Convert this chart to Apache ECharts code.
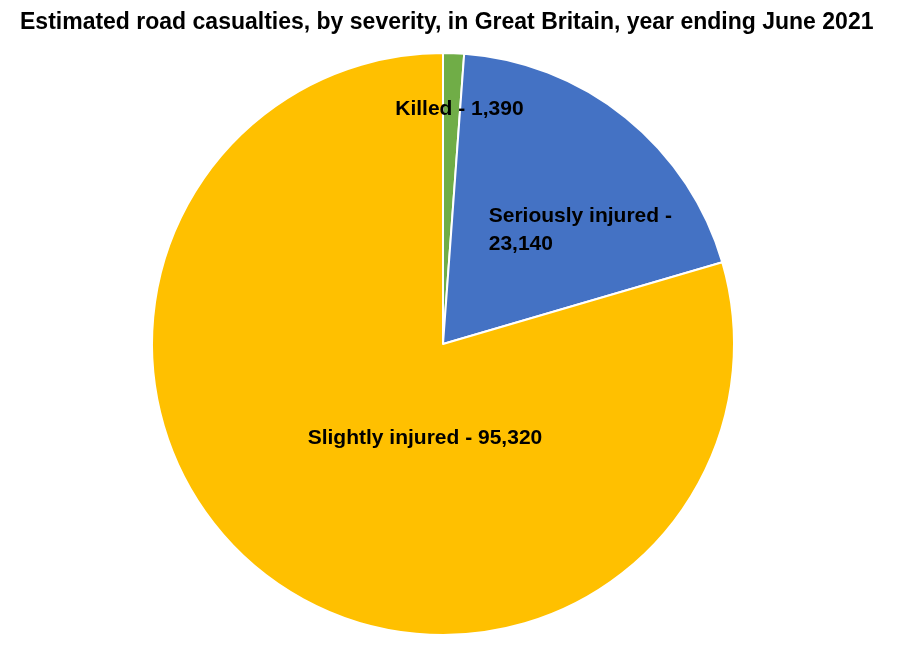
<!DOCTYPE html>
<html>
<head>
<meta charset="utf-8">
<script src="https://cdn.jsdelivr.net/npm/echarts@6/dist/echarts.min.js"></script>
<style>
  html, body { margin: 0; padding: 0; background: #fff; }
  #chart { width: 908px; height: 646px; }
</style>
</head>
<body>
<div id="chart"></div>
<script>
// casualty categories and estimated counts
const categories = ['Killed', 'Seriously injured', 'Slightly injured'];
const values = [1390, 23140, 95320];
const colors = ['#70AD47', '#4472C4', '#FFC000'];

// label placement tweaks per slice (offset from default inside position)
const labelTweaks = [
    { offset: [11, -86], fmt: (n, v) => n + ' - ' + v },
    { offset: [44, 2], fmt: (n, v) => '{l|' + n + ' -}\n{l|' + v + '}' },
    { offset: [71, -25], fmt: (n, v) => n + ' - ' + v }
];

const fmtNum = v => v.toLocaleString('en-GB');

let myChart = echarts.init(document.getElementById('chart'));
let option = {
    animation: false,
    title: {
        text: 'Estimated road casualties, by severity, in Great Britain, year ending June 2021',
        left: 15,
        top: 6,
        textStyle: {
            fontFamily: 'Liberation Sans',
            fontWeight: 'bold',
            fontSize: 23,
            color: '#000'
        }
    },
    series: [
        {
            type: 'pie',
            center: [443, 344],
            radius: 291,
            startAngle: 90,
            clockwise: true,
            itemStyle: {
                borderColor: '#fff',
                borderWidth: 2
            },
            labelLine: { show: false },
            data: categories.map((name, i) => ({
                name: name,
                value: values[i],
                itemStyle: { color: colors[i] },
                label: {
                    show: true,
                    position: 'inside',
                    offset: labelTweaks[i].offset,
                    formatter: labelTweaks[i].fmt(name, fmtNum(values[i])),
                    fontFamily: 'Liberation Sans',
                    fontWeight: 'bold',
                    fontSize: 21,
                    lineHeight: 28,
                    color: '#000',
                    rich: {
                        l: {
                            align: 'left',
                            fontFamily: 'Liberation Sans',
                            fontWeight: 'bold',
                            fontSize: 21,
                            lineHeight: 28,
                            color: '#000'
                        }
                    }
                }
            }))
        }
    ]
};
myChart.setOption(option);
</script>
</body>
</html>
